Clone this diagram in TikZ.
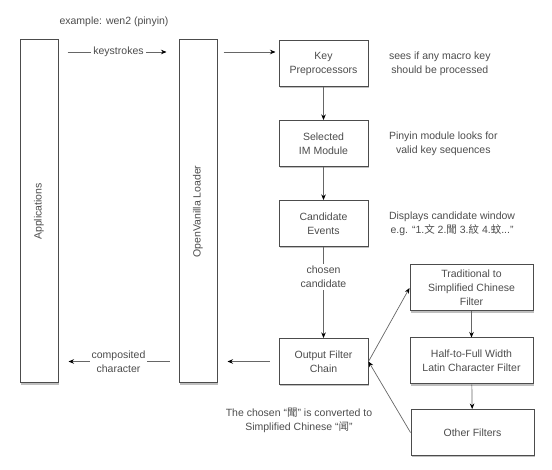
\documentclass[tikz,border=0pt]{standalone}
\usepackage{fontspec}
\setmainfont{Liberation Sans}
\newfontfamily\cjk{Noto Sans CJK TC}
\usetikzlibrary{positioning,arrows.meta,shadows}
\newcommand{\imfont}{\fontsize{10.5}{14}\selectfont}
\tikzset{
  imbox/.style={draw=black!70, line width=1pt, fill=white, align=center,
    font=\imfont, text=black!70, minimum width=89pt, minimum height=46pt, inner sep=2pt,
    drop shadow={shadow xshift=0.6pt, shadow yshift=-2pt, opacity=0.5}},
  imcolumn/.style={imbox, minimum width=38pt, minimum height=343pt},
  imfilter/.style={imbox, minimum width=123pt},
  imnote/.style={font=\imfont, text=black!70, align=center},
  imlabel/.style={imnote, fill=white, inner sep=2pt},
  imarrow/.style={-{Stealth[length=5.5pt,width=4.5pt,black]}, draw=black!60, line width=0.7pt},
}

\begin{document}
\begin{tikzpicture}[x=1pt,y=-1pt]
  \useasboundingbox (0,0) rectangle (552,470);
  % columns
  \node[imcolumn] (app) at (39,211.5) {};
  \node[imnote, rotate=90] at (app) {Applications};
  \node[imcolumn] (ldr) at (198,211.5) {};
  \node[imnote, rotate=90] at (ldr) {OpenVanilla Loader};
  \node[imnote] (ex) at (114,22) {example: wen2 (pinyin)};
  % pipeline
  \node[imbox] (kp) at (323.5,63.5) {Key\\Preprocessors};
  \node[imbox] (im) at (323.5,143.5) {Selected\\IM Module};
  \node[imbox] (ce) at (323.5,223.5) {Candidate\\Events};
  \node[imbox] (ofc) at (323.5,361.5) {Output Filter\\Chain};
  % filters
  \node[imfilter] (trad) at (471.5,288) {Traditional to\\Simplified Chinese\\Filter};
  \node[imfilter] (half) at (471.5,361) {Half-to-Full Width\\Latin Character Filter};
  \node[imfilter] (oth) at (472.5,432.5) {Other Filters};
  % notes
  \node[imnote, right=17pt of kp] (kpnote) {sees if any macro key\\should be processed};
  \node[imnote, right=17pt of im] (imnote) {Pinyin module looks for\\valid key sequences};
  \node[imnote, right=17pt of ce] (cenote) {Displays candidate window\\e.g. “1.{\cjk 文} 2.{\cjk 聞} 3.{\cjk 紋} 4.{\cjk 蚊}...”};
  \node[imnote] (conv) at (299,420) {The chosen “{\cjk 聞}” is converted to\\Simplified Chinese “{\cjk 闻}”};
  % connectors
  \coordinate (ks) at (0,52);
  \draw[imarrow, shorten <=9pt, shorten >=12pt] (app.east |- ks) -- node[imlabel] {keystrokes} (ldr.west |- ks);
  \draw[imarrow, shorten <=6pt, shorten >=3pt] (ldr.east |- ks) -- (kp.west |- ks);
  \draw[imarrow] (kp) -- (im);
  \draw[imarrow] (im) -- (ce);
  \draw[imarrow] (ce) -- node[imlabel, pos=0.33] {chosen\\candidate} (ofc);
  \draw[imarrow, shorten <=9pt, shorten >=10pt] (ofc) -- (ldr.east |- ofc);
  \draw[imarrow, shorten <=9pt, shorten >=10pt] (ldr.west |- ofc) -- node[imlabel] {composited\\character} (app.east |- ofc);
  \draw[imarrow] (ofc.east) -- (trad.west);
  \draw[imarrow] (trad) -- (half);
  \draw[imarrow] (half) -- (oth);
  \draw[imarrow] (oth.west) -- (ofc.east);
\end{tikzpicture}
\end{document}
